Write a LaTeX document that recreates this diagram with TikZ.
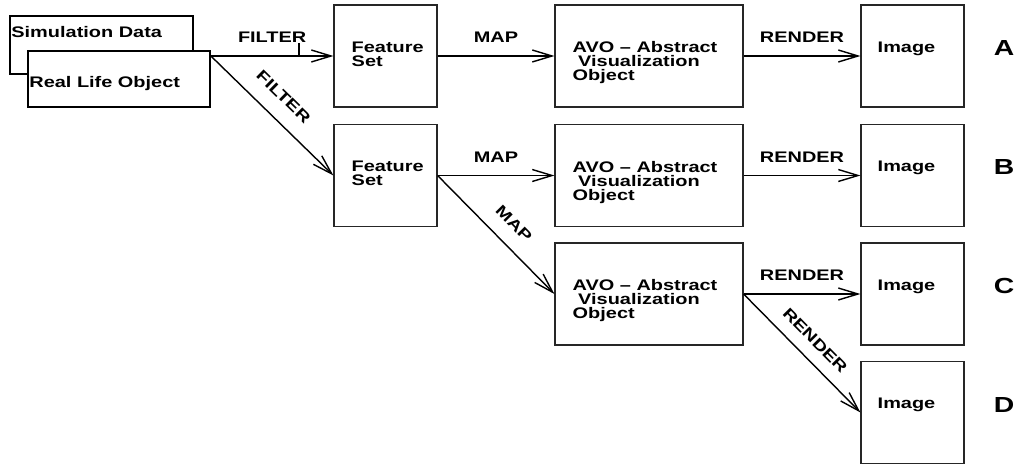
\documentclass[tikz,border=0pt]{standalone}
\usepackage{fontspec}
\setmainfont{Liberation Sans}[FakeStretch=1.3]
\usetikzlibrary{arrows.meta}

\tikzset{
  box/.style={draw=black!85, line width=0.8pt, minimum width=2.575cm, minimum height=2.55cm, inner sep=0pt},
  avobox/.style={box, minimum width=4.7cm},
  srcbox/.style={draw, line width=1.2pt, fill=white, inner sep=0pt},
  txt/.style={anchor=north west, inner sep=0pt, align=left, font=\bfseries\fontsize{10.9}{10}\selectfont},
  lbl/.style={inner sep=0pt, font=\bfseries\fontsize{10.9}{10}\selectfont},
  flow/.style={line width=1pt, -{Straight Barb[length=14pt,width=8.5pt]}},
  tag/.style={inner sep=0pt, font=\bfseries\fontsize{15.5}{16}\selectfont}
}

\begin{document}
\begin{tikzpicture}[x=0.025cm, y=-0.025cm]
    \useasboundingbox (0,0) rectangle (1016,464);

    % sources
    \node[srcbox, minimum width=4.575cm, minimum height=1.45cm] (sim) at (101.5,45) {};
    \node[txt] (simt) at ([shift={(2,11)}]sim.north west) {Simulation Data};
    \node[srcbox, minimum width=4.55cm, minimum height=1.4cm] (real) at (119,79) {};
    \node[txt] (realt) at ([shift={(2,26)}]real.north west) {Real Life Object};
    \coordinate (realout) at (real.east |- 0,56);

    % feature sets
    \node[box] (fsA) at (385.5,56) {};
    \node[box] (fsB) at (385.5,175.5) {};
    \node[txt] (fsAt) at ([shift={(18,37)}]fsA.north west) {Feature\\Set};
    \node[txt] (fsBt) at ([shift={(18,37)}]fsB.north west) {Feature\\Set};

    % abstract visualization objects
    \node[avobox] (avoA) at (649,56) {};
    \node[avobox] (avoB) at (649,175.5) {};
    \node[avobox] (avoC) at (649,294) {};
    \node[txt] (avoAt) at ([shift={(18,37)}]avoA.north west) {AVO -- Abstract\\ \ Visualization\\Object};
    \node[txt] (avoBt) at ([shift={(18,37)}]avoB.north west) {AVO -- Abstract\\ \ Visualization\\Object};
    \node[txt] (avoCt) at ([shift={(18,37)}]avoC.north west) {AVO -- Abstract\\ \ Visualization\\Object};

    % images
    \node[box] (imgA) at (912.5,56) {};
    \node[box] (imgB) at (912.5,175.5) {};
    \node[box] (imgC) at (912.5,294) {};
    \node[box] (imgD) at (912.5,412.5) {};
    \node[txt] (imgAt) at ([shift={(17,37)}]imgA.north west) {Image};
    \node[txt] (imgBt) at ([shift={(17,37)}]imgB.north west) {Image};
    \node[txt] (imgCt) at ([shift={(17,37)}]imgC.north west) {Image};
    \node[txt] (imgDt) at ([shift={(17,37)}]imgD.north west) {Image};

    % row tags
    \node[tag] (tagA) at (1004,48) {A};
    \node[tag] (tagB) at (1004,167.5) {B};
    \node[tag] (tagC) at (1004,286) {C};
    \node[tag] (tagD) at (1004,405) {D};

    % arrows
    \draw[flow] (realout) -- node[lbl, above=0.31cm] {FILTER} (fsA.west);
    \draw[line width=1pt] (299,43) -- (299,56);
    \draw[flow] (realout) -- node[lbl, sloped, above=0.39cm, pos=0.47] {FILTER} (fsB.west);
    \draw[flow] (fsA.east) -- node[lbl, above=0.31cm] {MAP} (avoA.west);
    \draw[flow] (fsB.east) -- node[lbl, above=0.31cm] {MAP} (avoB.west);
    \draw[flow] (fsB.east) -- node[lbl, sloped, above=0.36cm, pos=0.53] {MAP} (avoC.west);
    \draw[flow] (avoA.east) -- node[lbl, above=0.31cm] {RENDER} (imgA.west);
    \draw[flow] (avoB.east) -- node[lbl, above=0.31cm] {RENDER} (imgB.west);
    \draw[flow] (avoC.east) -- node[lbl, above=0.31cm] {RENDER} (imgC.west);
    \draw[flow] (avoC.east) -- node[lbl, sloped, above=0.31cm] {RENDER} (imgD.west);
\end{tikzpicture}
\end{document}
